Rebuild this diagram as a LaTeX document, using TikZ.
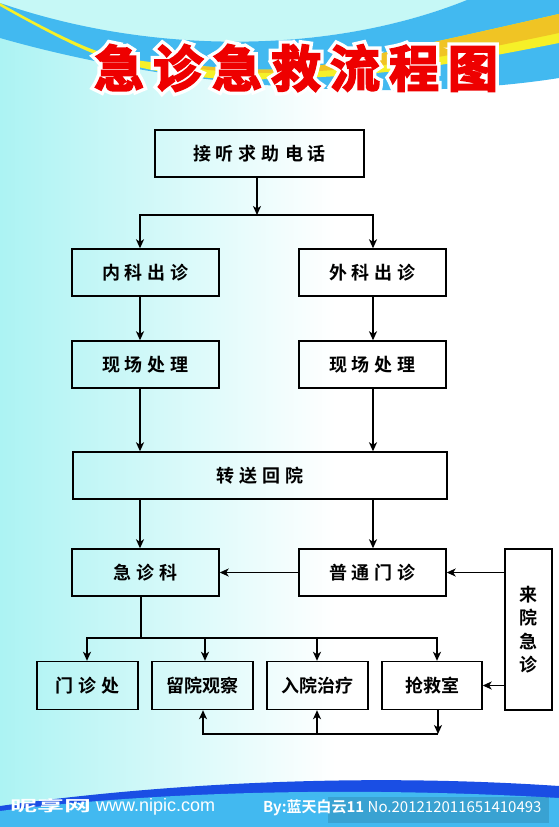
\documentclass[tikz,border=0pt]{standalone}
\usepackage{fontspec}
\usepackage{graphicx}
\usetikzlibrary{arrows.meta}
\newfontfamily\cjk{Noto Sans CJK SC}
\newfontfamily\cjkb{Noto Sans CJK SC Bold}
\newfontfamily\ttlwhite[FakeBold=17]{Noto Sans CJK SC Bold}
\newfontfamily\ttlred[FakeBold=3.5]{Noto Sans CJK SC Bold}
\newfontfamily\lsans{Liberation Sans}
\definecolor{cyanbg}{RGB}{172,243,243}
\definecolor{topcyan}{RGB}{198,248,246}
\definecolor{bandblue}{RGB}{66,185,240}
\definecolor{ribyellow}{RGB}{246,240,40}
\definecolor{ribgold}{RGB}{240,196,36}
\definecolor{deepblue}{RGB}{26,78,228}
\definecolor{titlered}{RGB}{238,0,0}
\pgfdeclarehorizontalshading{bgshade}{100bp}{color(0bp)=(cyanbg); color(25bp)=(cyanbg); color(55bp)=(white); color(100bp)=(white)}
\newcommand\gp{\hspace{5pt}}
\newcommand\titletext{急\hspace{9pt}诊\hspace{9pt}急\hspace{9pt}救\hspace{9pt}流\hspace{9pt}程\hspace{9pt}图}
\begin{document}
\begin{tikzpicture}[x=1pt,y=-1pt,
  box/.style={draw=black, line width=1.4pt, inner sep=0pt, font=\cjkb\fontsize{18}{20}\selectfont},
  wbox/.style={box, minimum width=147pt, minimum height=47pt},
  sbox/.style={box, minimum width=101pt, minimum height=48pt},
  arr/.style={line width=1.4pt, -{Stealth[length=9pt,width=8pt,inset=2.5pt]}},
  arrboth/.style={line width=1.4pt, {Stealth[length=9pt,width=8pt,inset=2.5pt]}-{Stealth[length=9pt,width=8pt,inset=2.5pt]}},
  arrstart/.style={line width=1.4pt, {Stealth[length=9pt,width=8pt,inset=2.5pt]}-},
  ln/.style={line width=1.4pt},
  ttl/.style={inner sep=0pt}
]
\useasboundingbox (0,0) rectangle (559,827);
\begin{scope}
\clip (0,0) rectangle (559,827);
% background
\shade[shading=bgshade] (0,0) rectangle (559,827);
% top area above band
\fill[topcyan] (0,0) -- (0,3) .. controls (150,55) and (330,55) .. (467,0) -- cycle;
% blue band
\fill[bandblue] (0,3) .. controls (150,55) and (330,55) .. (467,0) -- (559,0) -- (559,78) .. controls (420,100) and (200,95) .. (0,38) -- cycle;
% yellow ribbon
\fill[ribyellow] plot[smooth,tension=0.6] coordinates {(0,3) (100,52) (200,66) (300,68) (420,45) (559,14)} -- plot[smooth,tension=0.6] coordinates {(559,43) (420,68) (300,78) (200,77) (100,56) (0,6)} -- cycle;
\begin{scope}
\clip plot[smooth,tension=0.6] coordinates {(0,3) (100,52) (200,66) (300,68) (420,45) (559,14)} -- plot[smooth,tension=0.6] coordinates {(559,43) (420,68) (300,78) (200,77) (100,56) (0,6)} -- cycle;
\fill[ribgold] (560,-10) -- (560,33) -- plot[smooth,tension=0.6] coordinates {(559,33) (420,60) (300,72) (200,69) (100,48)} -- (100,-10) -- cycle;
\end{scope}
% bottom bands
\fill[deepblue] (0,806) .. controls (150,785) and (350,772) .. (559,786) -- (559,827) -- (0,827) -- cycle;
\fill[bandblue] (0,811) .. controls (150,792) and (350,786) .. (559,798) -- (559,827) -- (0,827) -- cycle;
\fill[black, opacity=0.12] (328,797) rectangle (549,823);
\end{scope}

% title: white outline underneath, red on top
\node[ttl,text=white,font=\ttlwhite\fontsize{50}{56}\selectfont] (titlebg) at (296,68) {\titletext};
\node[ttl,text=titlered,font=\ttlred\fontsize{50}{56}\selectfont] (title) at (296,68) {\titletext};

% boxes
\node[box, minimum width=209pt, minimum height=47pt] (call) at (259.5,153.5) {接\gp{}听\gp{}求\gp{}助\gp{}电\gp{}话};
\node[wbox] (nk) at (145.5,272.5) {内\gp{}科\gp{}出\gp{}诊};
\node[wbox] (wk) at (372.5,272.5) {外\gp{}科\gp{}出\gp{}诊};
\node[wbox] (xc1) at (145.5,364.5) {现\gp{}场\gp{}处\gp{}理};
\node[wbox] (xc2) at (372.5,364.5) {现\gp{}场\gp{}处\gp{}理};
\node[box, minimum width=374pt, minimum height=47pt] (zs) at (260,475.5) {转\gp{}送\gp{}回\gp{}院};
\node[wbox] (jzk) at (145.5,572.5) {急\gp{}诊\gp{}科};
\node[wbox] (pt) at (372.5,572.5) {普\gp{}通\gp{}门\gp{}诊};
\node[box, minimum width=47pt, minimum height=161pt, align=center, font=\cjkb\fontsize{18}{23.5}\selectfont] (ly) at (528.5,629.5) {来\\院\\急\\诊};
\node[sbox] (mz) at (87.5,685.5) {门\gp{}诊\gp{}处};
\node[sbox] (lg) at (202.5,685.5) {留院观察};
\node[sbox] (ry) at (317.5,685.5) {入院治疗};
\node[sbox, minimum width=100pt] (qj) at (432,685.5) {抢救室};

% connectors
\coordinate (cL) at (140,0);
\coordinate (cR) at (373,0);
\coordinate (s1) at (257,215);
\draw[arr] (call.south -| s1) -- (s1);
\draw[arrboth] (nk.north -| cL) -- (cL |- s1) -- (cR |- s1) -- (wk.north -| cR);
\draw[arr] (nk.south -| cL) -- (xc1.north -| cL);
\draw[arr] (wk.south -| cR) -- (xc2.north -| cR);
\draw[arr] (xc1.south -| cL) -- (zs.north -| cL);
\draw[arr] (xc2.south -| cR) -- (zs.north -| cR);
\draw[arr] (zs.south -| cL) -- (jzk.north -| cL);
\draw[arr] (zs.south -| cR) -- (pt.north -| cR);
\draw[arr] (pt.west) -- (jzk.east);
\draw[arr] (ly.west |- pt.east) -- (pt.east);
\draw[arr] (ly.west |- qj.east) -- (qj.east);

\coordinate (s2) at (141,638);
\coordinate (hL) at (87,638);
\coordinate (hR) at (437,638);
\coordinate (hA) at (205,638);
\coordinate (hB) at (317,638);
\draw[ln] (jzk.south -| s2) -- (s2);
\draw[arrboth] (mz.north -| hL) -- (hL) -- (hR) -- (qj.north -| hR);
\draw[arr] (hA) -- (lg.north -| hA);
\draw[arr] (hB) -- (ry.north -| hB);

\coordinate (b0) at (438,734);
\coordinate (bA) at (203,734);
\coordinate (bB) at (317,734);
\draw[arr] (qj.south -| b0) -- (b0);
\draw[arrstart] (lg.south -| bA) -- (bA) -- (b0);
\draw[arr] (bB) -- (ry.south -| bB);

% watermark
\node[anchor=west, inner sep=0pt, text=white, font=\cjkb\fontsize{15}{15}\selectfont] (wm1) at (10,806) {\scalebox{1.8}[1]{昵享网}};
\node[anchor=west, inner sep=0pt, text=white, font=\lsans\fontsize{18}{18}\selectfont] (wm2) at (96,807) {www.nipic.com};
\begin{scope}
\clip (0,0) rectangle (559,827);
\node[anchor=west, inner sep=0pt, text=white, font=\cjkb\fontsize{15}{15}\selectfont] (wm3) at (263,808) {By:蓝天白云11 {\cjk No.201212011651410493}};
\end{scope}
\end{tikzpicture}
\end{document}
